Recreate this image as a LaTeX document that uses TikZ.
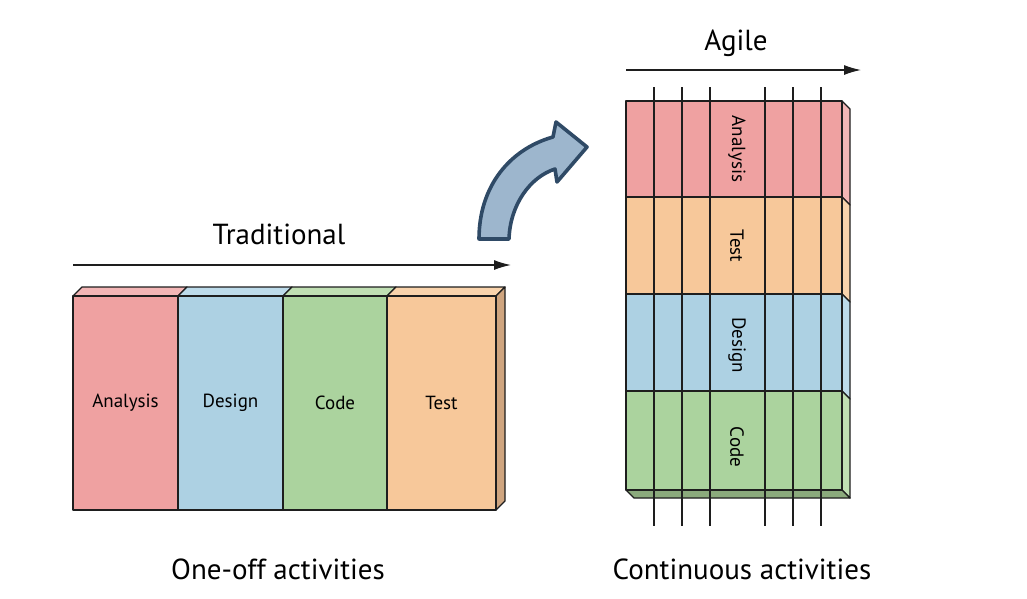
\documentclass[tikz,border=0pt]{standalone}
\usepackage{fontspec}
\setmainfont{PT Sans}
\usetikzlibrary{arrows.meta}
\definecolor{redF}{HTML}{EFA1A1}
\definecolor{redT}{HTML}{F3B6B6}
\definecolor{bluF}{HTML}{ADD1E3}
\definecolor{bluT}{HTML}{BDDBEA}
\definecolor{grnF}{HTML}{ABD39E}
\definecolor{grnT}{HTML}{C0DFB3}
\definecolor{grnB}{HTML}{8BAA7C}
\definecolor{orgF}{HTML}{F7C89A}
\definecolor{orgT}{HTML}{F9D3AC}
\definecolor{orgS}{HTML}{CFA57F}
\definecolor{arrF}{HTML}{9DB6CD}
\definecolor{arrD}{HTML}{2F4A66}
\definecolor{edge}{HTML}{1E1E1E}
\begin{document}
\begin{tikzpicture}[x=1pt,y=-1pt,
  face/.style={draw=edge, line width=1.3pt, line join=round},
  lbl/.style={font=\fontsize{19}{22}\selectfont, text=black, inner sep=0pt},
  big/.style={font=\fontsize{29}{33}\selectfont, text=black, inner sep=0pt},
  timeline/.style={draw=edge, line width=1.3pt, -{Latex[length=17pt,width=10pt]}},
  tick/.style={draw=edge, line width=1.1pt}]
\useasboundingbox (0,0) rectangle (1027,598);

% ---------- Traditional ----------
\foreach \xa/\xb/\cf/\ct/\t in {73/178/redF/redT/Analysis,178/283/bluF/bluT/Design,283/387/grnF/grnT/Code,387/496/orgF/orgT/Test}{
  \path[face, fill=\ct] (\xa,296) -- (\xa+9,287) -- (\xb+9,287) -- (\xb,296) -- cycle;
}
\path[face, fill=orgS] (496,296) -- (505,287) -- (505,501) -- (496,510) -- cycle;
\foreach \xa/\xb/\cf/\t in {73/178/redF/Analysis,178/283/bluF/Design,283/387/grnF/Code,387/496/orgF/Test}{
  \path[face, fill=\cf] (\xa,296) rectangle (\xb,510);
  \node[lbl] (tr-\t) at ({(\xa+\xb)/2},403) {\t};
}
\coordinate (ta) at (73,265);
\coordinate (tb) at (511,265);
\draw[timeline] (ta) -- (tb);
\node[big] (trad) at (279,234) {Traditional};
\node[big] (oneoff) at (278,569) {One-off activities};

% ---------- Curved arrow ----------
\path[draw=arrD, fill=arrF, line width=3.6pt, line join=round]
  (479,239) .. controls (479,186) and (510,149) .. (553,137)
  -- (556,122) -- (587,147) -- (557,182) -- (555,169)
  .. controls (530,177) and (510,205) .. (509,239) -- cycle;

% ---------- Agile ----------
\foreach \ya/\yb/\cf/\ct/\t in {101/197/redF/redT/Analysis,197/294/orgF/orgT/Test,294/391/bluF/bluT/Design,391/490/grnF/grnT/Code}{
  \path[face, fill=\ct] (842,\ya) -- (850,\ya+8) -- (850,\yb+8) -- (842,\yb) -- cycle;
}
\path[face, fill=grnB] (626,490) -- (842,490) -- (850,498) -- (634,498) -- cycle;
\foreach \ya/\yb/\cf/\t in {101/197/redF/Analysis,197/294/orgF/Test,294/391/bluF/Design,391/490/grnF/Code}{
  \path[face, fill=\cf] (626,\ya) rectangle (842,\yb);
}
\foreach \x [count=\i] in {654,682,710,765,793,821}{
  \coordinate (vt\i) at (\x,87);
  \coordinate (vb\i) at (\x,526);
  \draw[tick] (vt\i) -- (vb\i);
}
\node[lbl, rotate=-90] (ag-Analysis) at (737,149) {Analysis};
\node[lbl, rotate=-90] (ag-Test) at (737,246) {Test};
\node[lbl, rotate=-90] (ag-Design) at (737,345) {Design};
\node[lbl, rotate=-90] (ag-Code) at (737,447) {Code};
\coordinate (aa) at (626,70);
\coordinate (ab) at (861,70);
\draw[timeline] (aa) -- (ab);
\node[big] (agile) at (736,43) {Agile};
\node[big] (cont) at (742,569) {Continuous activities};
\end{tikzpicture}
\end{document}
